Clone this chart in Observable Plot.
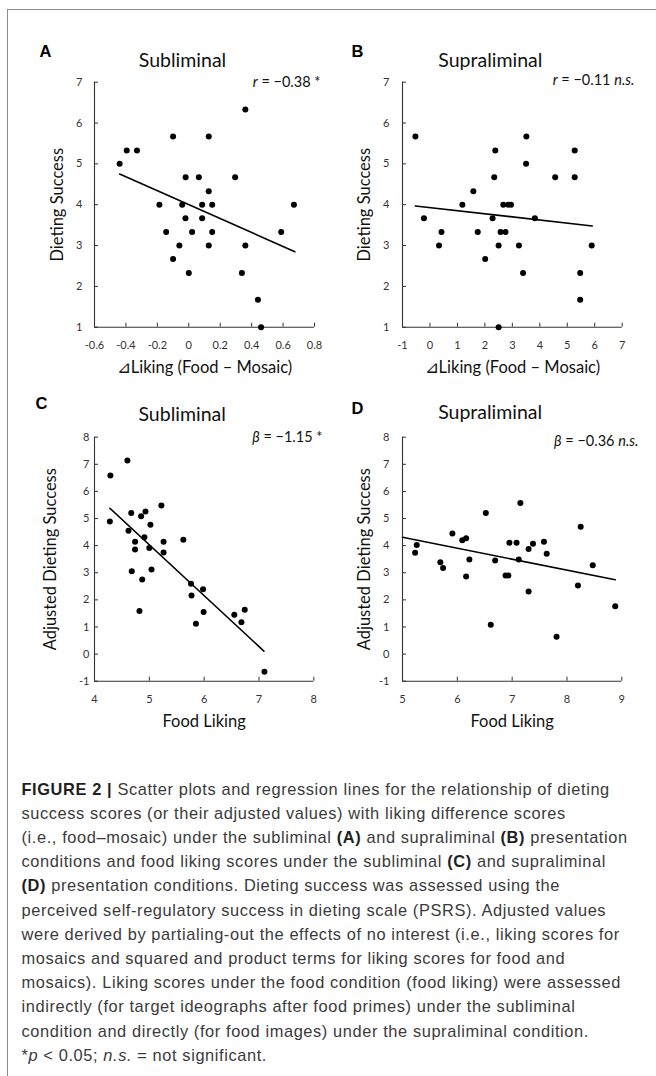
<!DOCTYPE html>
<html>
<head>
<meta charset="utf-8">
<script src="https://cdn.jsdelivr.net/npm/d3@7"></script>
<script src="https://cdn.jsdelivr.net/npm/@observablehq/plot@0.6"></script>
<style>
  html, body { margin: 0; padding: 0; background: #fff; }
  #fig { position: relative; width: 656px; height: 1076px; overflow: hidden; background: #fff; }
  .frameTop { position: absolute; left: 7px; top: 9px; width: 649px; height: 0; border-top: 1.5px solid #8c8c8c; }
  .frameLeft { position: absolute; left: 7px; top: 9px; width: 0; height: 1067px; border-left: 1.5px solid #8c8c8c; }
  .panel { position: absolute; }
  .capline { position: absolute; left: 21.5px; white-space: nowrap; font-family: "Liberation Sans", Arial, sans-serif; font-weight: 400; font-size: 16.4px; color: #3a3a3a; line-height: 20px; }
  .capline b { font-weight: 700; color: #1f1f1f; }
</style>
</head>
<body>
<div id="fig">
  <div class="frameTop"></div>
  <div class="frameLeft"></div>
</div>
<script>
// ---------- data ----------
// Panel A: Subliminal, ΔLiking (Food – Mosaic) vs Dieting Success
const aX = [-0.44, -0.395, -0.33, -0.10, 0.127, 0.36, -0.02, 0.064, 0.295, 0.127, -0.187, -0.042, 0.085, 0.149, 0.669, -0.021, 0.085, -0.144, 0.021, 0.149, 0.588, -0.06, 0.127, 0.36, -0.10, 0.0, 0.338, 0.44, 0.46];
const aY = [5.0, 5.33, 5.33, 5.67, 5.67, 6.33, 4.67, 4.67, 4.67, 4.33, 4.0, 4.0, 4.0, 4.0, 4.0, 3.67, 3.67, 3.33, 3.33, 3.33, 3.33, 3.0, 3.0, 3.0, 2.67, 2.33, 2.33, 1.67, 1.0];
const aLineX = [-0.44, 0.675];
const aLineY = [4.75, 2.85];

// Panel B: Supraliminal, ΔLiking (Food – Mosaic) vs Dieting Success
const bX = [-0.53, -0.22, 0.42, 0.33, 1.18, 1.58, 1.74, 2.01, 2.28, 2.34, 2.38, 2.67, 2.85, 2.95, 2.57, 2.75, 2.50, 2.50, 3.24, 3.39, 3.50, 3.51, 3.82, 4.56, 5.27, 5.27, 5.47, 5.47, 5.89];
const bY = [5.67, 3.67, 3.33, 3.0, 4.0, 4.33, 3.33, 2.67, 3.67, 4.67, 5.33, 4.0, 4.0, 4.0, 3.33, 3.33, 3.0, 1.0, 3.0, 2.33, 5.0, 5.67, 3.67, 4.67, 5.33, 4.67, 2.33, 1.67, 3.0];
const bLineX = [-0.53, 5.91];
const bLineY = [3.97, 3.48];

// Panel C: Subliminal, Food Liking vs Adjusted Dieting Success
const cX = [4.29, 4.28, 4.60, 4.67, 4.62, 4.74, 4.74, 4.68, 4.87, 4.82, 4.85, 4.93, 4.91, 5.02, 5.00, 5.04, 5.22, 5.26, 5.26, 5.62, 5.76, 5.77, 5.98, 5.99, 5.85, 6.55, 6.68, 6.74, 7.10];
const cY = [6.59, 4.89, 7.14, 5.20, 4.55, 4.14, 3.86, 3.06, 2.75, 1.59, 5.08, 5.26, 4.31, 4.77, 3.91, 3.12, 5.48, 4.14, 3.75, 4.22, 2.59, 2.16, 2.39, 1.55, 1.12, 1.45, 1.17, 1.64, -0.65];
const cLineX = [4.28, 7.09];
const cLineY = [5.38, 0.11];

// Panel D: Supraliminal, Food Liking vs Adjusted Dieting Success
const dX = [5.23, 5.26, 5.69, 5.74, 5.91, 6.09, 6.16, 6.16, 6.22, 6.52, 6.69, 6.61, 6.88, 6.93, 6.95, 7.08, 7.12, 7.15, 7.30, 7.38, 7.30, 7.58, 7.63, 7.81, 8.20, 8.25, 8.47, 8.88];
const dY = [3.74, 4.02, 3.39, 3.18, 4.45, 4.20, 4.27, 2.86, 3.49, 5.20, 3.45, 1.08, 2.90, 2.90, 4.11, 4.11, 3.49, 5.57, 3.88, 4.07, 2.31, 4.14, 3.70, 0.64, 2.53, 4.70, 3.28, 1.76];
const dLineX = [5.0, 8.88];
const dLineY = [4.31, 2.74];

// Tick values
const ticksA_X = [-0.6, -0.4, -0.2, 0, 0.2, 0.4, 0.6, 0.8];
const ticksB_X = [-1, 0, 1, 2, 3, 4, 5, 6, 7];
const ticksAB_Y = [1, 2, 3, 4, 5, 6, 7];
const ticksC_X = [4, 5, 6, 7, 8];
const ticksD_X = [5, 6, 7, 8, 9];
const ticksCD_Y = [-1, 0, 1, 2, 3, 4, 5, 6, 7, 8];

// Texts
const letters = ["A", "B", "C", "D"];
const titles = ["Subliminal", "Supraliminal", "Subliminal", "Supraliminal"];
const xLabels = ["\u22BFLiking (Food \u2013 Mosaic)", "\u22BFLiking (Food \u2013 Mosaic)", "Food Liking", "Food Liking"];
const yLabels = ["Dieting Success", "Dieting Success", "Adjusted Dieting Success", "Adjusted Dieting Success"];
const statParts = [
  [["r", true], [" = \u22120.38 *", false]],
  [["r", true], [" = \u22120.11 ", false], ["n.s.", true]],
  [["\u03B2", true], [" = \u22121.15 *", false]],
  [["\u03B2", true], [" = \u22120.36 ", false], ["n.s.", true]]
];

const captionLines = [
  "<b>FIGURE 2 |</b> Scatter plots and regression lines for the relationship of dieting",
  "success scores (or their adjusted values) with liking difference scores",
  "(i.e., food\u2013mosaic) under the subliminal <b>(A)</b> and supraliminal <b>(B)</b> presentation",
  "conditions and food liking scores under the subliminal <b>(C)</b> and supraliminal",
  "<b>(D)</b> presentation conditions. Dieting success was assessed using the",
  "perceived self-regulatory success in dieting scale (PSRS). Adjusted values",
  "were derived by partialing-out the effects of no interest (i.e., liking scores for",
  "mosaics and squared and product terms for liking scores for food and",
  "mosaics). Liking scores under the food condition (food liking) were assessed",
  "indirectly (for target ideographs after food primes) under the subliminal",
  "condition and directly (for food images) under the supraliminal condition.",
  "*<i>p</i> &lt; 0.05; <i>n.s.</i> = not significant."
];

// ---------- layout ----------
const layouts = [
  {left: 0,   top: 0,   width: 328, height: 372, mL: 94, mR: 14,   mT: 81.7, mB: 45.3, yGap: 12, yLabDx: -37, statDx: 6,    statDy: 0,    titleDy: -15,   letDx: -55, letDy: -24.7},
  {left: 328, top: 0,   width: 328, height: 372, mL: 74, mR: 34.3, mT: 81.7, mB: 45.3, yGap: 13, yLabDx: -38, statDx: 12.3, statDy: -1.5, titleDy: -15,   letDx: -51, letDy: -24.7},
  {left: 0,   top: 372, width: 328, height: 378, mL: 94, mR: 14.7, mT: 64.7, mB: 69.3, yGap: 5,  yLabDx: -44, statDx: 8.7,  statDy: 0,    titleDy: -16.7, letDx: -59, letDy: -28.7},
  {left: 328, top: 372, width: 328, height: 378, mL: 74, mR: 34.7, mT: 64.7, mB: 69.3, yGap: 13, yLabDx: -38, statDx: 16.7, statDy: 4,    titleDy: -18,   letDx: -51, letDy: -23.7}
];

const panels = [
  {xs: aX, ys: aY, lx: aLineX, ly: aLineY, xDom: [-0.6, 0.8], yDom: [1, 7], xT: ticksA_X, yT: ticksAB_Y},
  {xs: bX, ys: bY, lx: bLineX, ly: bLineY, xDom: [-1, 7],     yDom: [1, 7], xT: ticksB_X, yT: ticksAB_Y},
  {xs: cX, ys: cY, lx: cLineX, ly: cLineY, xDom: [4, 8],      yDom: [-1, 8], xT: ticksC_X, yT: ticksCD_Y},
  {xs: dX, ys: dY, lx: dLineX, ly: dLineY, xDom: [5, 9],      yDom: [-1, 8], xT: ticksD_X, yT: ticksCD_Y}
];

const fmt = d => String(+(+d).toFixed(1));
const FONT = "Lato, 'Open Sans', sans-serif";
const AXC = "#333";
const fig = document.getElementById("fig");

panels.forEach((p, i) => {
  const L = layouts[i];
  const pts = p.xs.map((x, j) => ({x, y: p.ys[j]}));
  const lpts = p.lx.map((x, j) => ({x, y: p.ly[j]}));
  const svg = Plot.plot({
    width: L.width, height: L.height,
    marginLeft: L.mL, marginRight: L.mR, marginTop: L.mT, marginBottom: L.mB,
    style: {background: "transparent", fontFamily: FONT, overflow: "visible"},
    x: {domain: p.xDom, label: null},
    y: {domain: p.yDom, label: null},
    marks: [
      Plot.axisX({ticks: p.xT, tickFormat: fmt, tickSize: -4, tickPadding: 18, fontSize: 11, color: AXC, label: null}),
      Plot.axisY({ticks: p.yT, tickFormat: fmt, tickSize: -4, tickPadding: L.yGap + 4, fontSize: 11, color: AXC, label: null}),
      Plot.ruleX([p.xDom[0]], {stroke: AXC, strokeWidth: 1.1}),
      Plot.ruleY([p.yDom[0]], {stroke: AXC, strokeWidth: 1.1}),
      Plot.line(lpts, {x: "x", y: "y", stroke: "#000", strokeWidth: 1.6}),
      Plot.dot(pts, {x: "x", y: "y", r: 3, fill: "#000", stroke: null}),
      Plot.text([titles[i]], {frameAnchor: "top", dx: -22, dy: L.titleDy, lineAnchor: "bottom", fontSize: 19.5, fill: "#111"}),
      Plot.text([letters[i]], {frameAnchor: "top-left", textAnchor: "start", dx: L.letDx, dy: L.letDy, lineAnchor: "bottom", fontSize: 16.5, fontWeight: "bold", fontFamily: "'Liberation Sans', Arial, sans-serif", fill: "#000"}),
      Plot.text([xLabels[i]], {frameAnchor: "bottom", dy: 41, lineAnchor: "middle", fontSize: 16.5, fill: "#111"}),
      Plot.text([yLabels[i]], {frameAnchor: "left", dx: L.yLabDx, rotate: -90, lineAnchor: "middle", textAnchor: "middle", fontSize: 16.5, fill: "#111"}),
      Plot.text(["__stat__"], {frameAnchor: "top-right", textAnchor: "end", dx: L.statDx, dy: L.statDy, lineAnchor: "middle", fontSize: 14.5, fill: "#111"})
    ]
  });
  // italic parts of the statistic annotation
  svg.querySelectorAll("text").forEach(t => {
    if (t.textContent === "__stat__") {
      t.textContent = "";
      statParts[i].forEach(([s, it]) => {
        const ts = document.createElementNS("http://www.w3.org/2000/svg", "tspan");
        ts.textContent = s;
        if (it) ts.setAttribute("font-style", "italic");
        t.appendChild(ts);
      });
    }
  });
  const wrap = document.createElement("div");
  wrap.className = "panel";
  wrap.style.left = L.left + "px";
  wrap.style.top = L.top + "px";
  wrap.appendChild(svg);
  fig.appendChild(wrap);
});

// caption
const capTop = 778.6;
const capStep = 24.2;
const capDivs = captionLines.map((html, k) => {
  const d = document.createElement("div");
  d.className = "capline";
  d.style.top = (capTop + k * capStep) + "px";
  d.innerHTML = html;
  fig.appendChild(d);
  return d;
});
// fit letter-spacing so the third line spans the measured width of the reference
const ref = capDivs[2];
const w = ref.getBoundingClientRect().width;
const n = ref.textContent.length;
const ls = Math.max(-0.6, Math.min(0.6, (611 - w) / n));
capDivs.forEach(d => { d.style.letterSpacing = ls + "px"; });
</script>
</body>
</html>
